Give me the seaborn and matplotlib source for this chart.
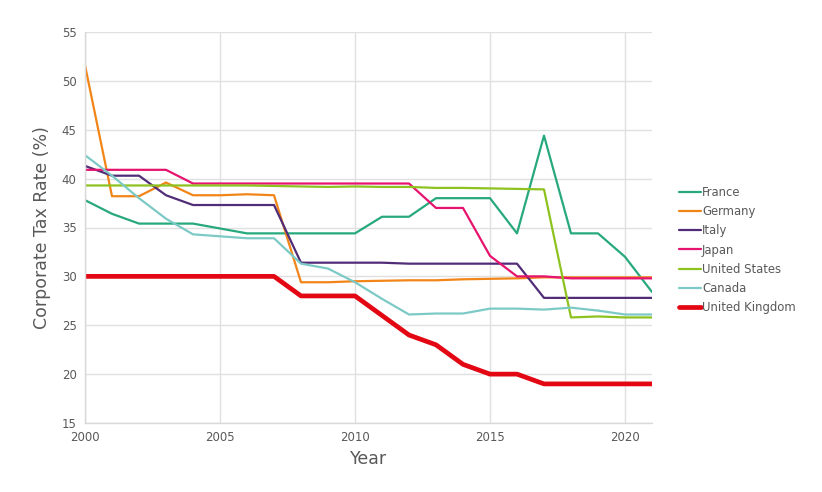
import matplotlib
matplotlib.use("Agg")
import matplotlib.pyplot as plt
import seaborn as sns
import pandas as pd

years = list(range(2000, 2022))
france = [37.8, 36.4, 35.4, 35.4, 35.4, 34.9, 34.4, 34.4, 34.4, 34.4, 34.4, 36.1, 36.1, 38.0, 38.0, 38.0, 34.4, 44.4, 34.4, 34.4, 32.0, 28.4]
germany = [51.6, 38.2, 38.2, 39.6, 38.3, 38.3, 38.4, 38.3, 29.4, 29.4, 29.5, 29.55, 29.6, 29.6, 29.7, 29.75, 29.8, 29.9, 29.9, 29.9, 29.9, 29.9]
italy = [41.3, 40.3, 40.3, 38.3, 37.3, 37.3, 37.3, 37.3, 31.4, 31.4, 31.4, 31.4, 31.3, 31.3, 31.3, 31.3, 31.3, 27.8, 27.8, 27.8, 27.8, 27.8]
japan = [40.9, 40.9, 40.9, 40.9, 39.5, 39.5, 39.5, 39.5, 39.5, 39.5, 39.5, 39.5, 39.5, 37.0, 37.0, 32.1, 30.0, 30.0, 29.8, 29.8, 29.8, 29.8]
united_states = [39.3, 39.3, 39.3, 39.3, 39.3, 39.3, 39.3, 39.25, 39.2, 39.15, 39.2, 39.15, 39.15, 39.05, 39.05, 39.0, 38.95, 38.9, 25.8, 25.9, 25.8, 25.8]
canada = [42.4, 40.3, 38.0, 35.9, 34.3, 34.1, 33.9, 33.9, 31.3, 30.8, 29.4, 27.7, 26.1, 26.2, 26.2, 26.7, 26.7, 26.6, 26.8, 26.5, 26.1, 26.1]
united_kingdom = [30, 30, 30, 30, 30, 30, 30, 30, 28, 28, 28, 26, 24, 23, 21, 20, 20, 19, 19, 19, 19, 19]

countries = ["France", "Germany", "Italy", "Japan", "United States", "Canada", "United Kingdom"]
series = [france, germany, italy, japan, united_states, canada, united_kingdom]
colors = ["#27a97c", "#f28518", "#512d78", "#e6136f", "#8dc21f", "#7ccac6", "#e30613"]

rows = []
for c, vals in zip(countries, series):
    for y, v in zip(years, vals):
        rows.append({"Year": y, "Rate": v, "Country": c})
df = pd.DataFrame(rows)

sns.set_theme(style="white")
plt.rcParams['font.family'] = ['DejaVu Sans']

fig = plt.figure(figsize=(8.22, 4.92), dpi=100)
ax = fig.add_axes([85/822, 1-423/492, (652-85)/822, (423-32)/492])

palette = dict(zip(countries, colors))
sizes = {c: (3.4 if c == "United Kingdom" else 1.6) for c in countries}
sns.lineplot(data=df, x="Year", y="Rate", hue="Country", palette=palette,
             size="Country", sizes=sizes, ax=ax, legend=False)

ax.set_xlim(2000, 2021)
ax.set_ylim(15, 55)
ax.set_xticks([2000, 2005, 2010, 2015, 2020])
ax.set_yticks(range(15, 56, 5))
ax.grid(True, color="#e0e0e0", linewidth=1)
ax.set_axisbelow(True)
for s in ["top", "right"]:
    ax.spines[s].set_visible(False)
for s in ["left", "bottom"]:
    ax.spines[s].set_color("#d9d9d9")
    ax.spines[s].set_linewidth(1)
ax.tick_params(axis="both", length=0, labelsize=8.5, labelcolor="#595959", pad=6)
ax.set_xlabel("Year", fontsize=12.5, color="#595959", labelpad=4)
ax.set_ylabel("Corporate Tax Rate (%)", fontsize=12.5, color="#595959", labelpad=8)

from matplotlib.lines import Line2D
handles = [Line2D([0], [0], color=col, lw=(3.4 if c == "United Kingdom" else 1.6)) for c, col in zip(countries, colors)]
leg = fig.legend(handles, countries, loc="upper left", bbox_to_anchor=(674/822, 1-181/492),
                 frameon=False, fontsize=8.4, handlelength=1.9, handletextpad=0.1,
                 labelspacing=0.54, borderaxespad=0)
for t in leg.get_texts():
    t.set_color("#595959")

fig.savefig("out.png", dpi=100)
